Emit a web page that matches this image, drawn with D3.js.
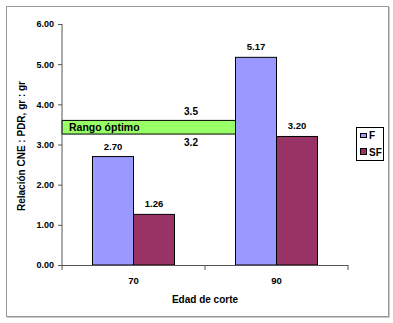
<!DOCTYPE html>
<html>
<head>
<meta charset="utf-8">
<script src="https://cdn.jsdelivr.net/npm/d3@7"></script>
<style>
  html, body { margin: 0; padding: 0; background: #fff; }
  svg { display: block; font-family: "Liberation Sans", Arial, sans-serif; }
</style>
</head>
<body>
<svg id="chart" width="393" height="323"></svg>
<script>
// ---- data ----
const categories = ["70", "90"];
const seriesNames = ["F", "SF"];
const valuesF = [2.70, 5.17];
const valuesSF = [1.26, 3.20];
const yTicks = [0, 1, 2, 3, 4, 5, 6];
const rangeLabels = ["3.5", "3.2"];
const rangeBand = [3.26, 3.60]; // drawn extent of the "Rango óptimo" band
const colors = { F: "#9999ff", SF: "#993366" };

const svg = d3.select("#chart");

// frame
svg.append("rect").attr("x", 6.5).attr("y", 6.5).attr("width", 382).attr("height", 310)
  .attr("fill", "#fff").attr("stroke", "#9a9a9a").attr("stroke-width", 1);
svg.append("line").attr("x1", 389.5).attr("x2", 389.5).attr("y1", 7).attr("y2", 317.5).attr("stroke", "#c8c8c8");
svg.append("line").attr("x1", 7).attr("x2", 389.5).attr("y1", 317.5).attr("y2", 317.5).attr("stroke", "#c8c8c8");

const y = d3.scaleLinear().domain([0, 6]).range([265, 24]);
const x = d3.scaleBand().domain(categories).range([62, 348]).paddingInner(0).paddingOuter(0);
const xs = d3.scaleBand().domain(seriesNames).range([0, x.bandwidth()]).paddingInner(0).paddingOuter(0.744);

const rows = categories.map((c, i) => ({ cat: c, F: valuesF[i], SF: valuesSF[i] }));

// optimum range band (behind bars)
const bandX0 = x.range()[0];
const bandX1 = x("90") + xs("F");
svg.append("rect")
  .attr("x", bandX0).attr("y", y(rangeBand[1]))
  .attr("width", bandX1 - bandX0).attr("height", y(rangeBand[0]) - y(rangeBand[1]))
  .attr("fill", "#99ff66").attr("stroke", "#000").attr("stroke-width", 1);
svg.append("text").attr("x", 69).attr("y", y(rangeBand[0]) - 3)
  .attr("font-size", 10.5).attr("font-weight", "bold").text("Rango óptimo");
svg.append("text").attr("x", 191).attr("y", y(rangeBand[1]) - 5).attr("text-anchor", "middle")
  .attr("font-size", 10).attr("font-weight", "bold").text(rangeLabels[0]);
svg.append("text").attr("x", 191).attr("y", y(rangeBand[0]) + 12).attr("text-anchor", "middle")
  .attr("font-size", 10).attr("font-weight", "bold").text(rangeLabels[1]);

// bars
const g = svg.append("g");
rows.forEach(r => {
  seriesNames.forEach(s => {
    const bx = x(r.cat) + xs(s);
    g.append("rect")
      .attr("x", bx).attr("y", y(r[s]))
      .attr("width", xs.bandwidth()).attr("height", y(0) - y(r[s]))
      .attr("fill", colors[s]).attr("stroke", "#000").attr("stroke-width", 1);
    g.append("text")
      .attr("x", bx + xs.bandwidth() / 2).attr("y", y(r[s]) - 7)
      .attr("text-anchor", "middle").attr("font-size", 9.5).attr("font-weight", "bold")
      .text(r[s].toFixed(2));
  });
});

// y axis
const yAxis = d3.axisLeft(y).tickValues(yTicks).tickFormat(d3.format(".2f")).tickSize(4).tickPadding(4);
const ya = svg.append("g").attr("transform", "translate(62,0)").call(yAxis);
ya.selectAll("text").attr("font-size", 9).attr("font-weight", "bold").attr("fill", "#000")
  .attr("font-family", "Liberation Sans, Arial, sans-serif");
ya.selectAll("line, path").attr("stroke", "#555");
ya.select(".domain").attr("d", "M0,24V265");

// x axis
const xa = svg.append("g").attr("transform", "translate(0,265)");
xa.append("line").attr("x1", 62).attr("x2", 348).attr("y1", 0.5).attr("y2", 0.5).attr("stroke", "#555");
[62, x("90"), 348].forEach(t => {
  xa.append("line").attr("x1", t).attr("x2", t).attr("y1", 0).attr("y2", 5).attr("stroke", "#555");
});
categories.forEach(c => {
  xa.append("text").attr("x", x(c) + x.bandwidth() / 2).attr("y", 19)
    .attr("text-anchor", "middle").attr("font-size", 9.5).attr("font-weight", "bold").text(c);
});

// axis titles
svg.append("text").attr("x", 205).attr("y", 303).attr("text-anchor", "middle")
  .attr("font-size", 10).attr("font-weight", "bold").text("Edad de corte");
svg.append("text").attr("transform", "translate(25,146) rotate(-90)").attr("text-anchor", "middle")
  .attr("font-size", 10).attr("font-weight", "bold").text("Relación CNE : PDR, gr : gr");

// legend
const lg = svg.append("g");
lg.append("rect").attr("x", 356.5).attr("y", 127.5).attr("width", 27).attr("height", 33)
  .attr("fill", "#fff").attr("stroke", "#000");
lg.append("rect").attr("x", 360.5).attr("y", 133.5).attr("width", 6).attr("height", 4)
  .attr("fill", colors.F).attr("stroke", "#000");
lg.append("text").attr("x", 369).attr("y", 139).attr("font-size", 10).attr("font-weight", "bold").text(seriesNames[0]);
lg.append("rect").attr("x", 360.5).attr("y", 148.5).attr("width", 6).attr("height", 6)
  .attr("fill", colors.SF).attr("stroke", "#000");
lg.append("text").attr("x", 369).attr("y", 156).attr("font-size", 10).attr("font-weight", "bold").text(seriesNames[1]);
</script>
</body>
</html>
